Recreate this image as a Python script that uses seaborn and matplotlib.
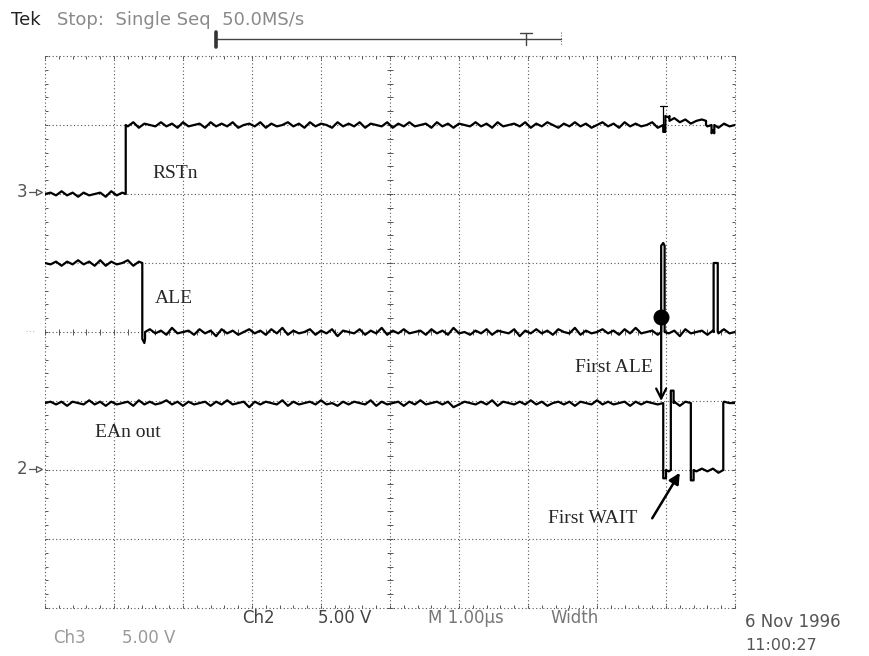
import numpy as np
import pandas as pd
import matplotlib
matplotlib.use("Agg")
import matplotlib.pyplot as plt
from matplotlib.lines import Line2D
import seaborn as sns

# ---- capture data (divisions: 10 horizontal x 8 vertical) ----
SAMPLE_T = np.round(np.arange(0, 10.0001, 0.08), 4)  # 126 sample instants

# RSTn: step low->high, small disturbance near the trigger
rstn_edges = [1.17, 8.96, 8.99, 9.05, 9.58, 9.66, 9.70]
rstn_levels = [6.0, 7.0, 6.9, 7.13, 7.06, 7.0, 6.88, 7.0]
rstn_ripple = [0, 1, -1, 2, -1, 1, -2, 1, -1, 0,
               1, -2, 2, -1, 1, -1, 2, -2, 1, 0,
               -1, 2, -1, 1, -2, 2, -1, 0, 1, -2,
               2, -1, 1, -1, 2, -2, 0, 1, -1, 2,
               -2, 1, -1, 0, 2, -1, 1, -2, 2, -1,
               1, 0, -2, 2, -1, 1, -1, 2, -2, 1,
               0, -1, 2, -2, 1, -1, 2, -1, 0, 1,
               -2, 2, -1, 1, -2, 1, 0, -1, 2, -1,
               1, -2, 2, -1, 0, 1, -1, 2, -2, 1,
               -1, 2, 0, -2, 1, -1, 2, -1, 1, -2,
               0, 2, -1, 1, -2, 2, -1, 1, -1, 0,
               2, -2, 1, -1, 2, -1, 1, -2, 0, 1,
               -1, 2, -2, 1, -1, 0]

# ALE: high->low, then the first ALE pulse and a second one
ale_edges = [1.41, 1.45, 8.93, 8.98, 9.69, 9.75]
ale_levels = [5.0, 3.9, 4.0, 5.25, 4.0, 5.0, 4.0]
ale_ripple = [0, -1, 1, -2, 1, -1, 2, -1, 1, -2,
              2, -2, 1, -1, 0, 2, -2, 1, -3, 2,
              -1, 1, -2, 3, -1, 0, 1, -2, 2, -1,
              1, -3, 2, -1, 1, -2, 0, 2, -1, 1,
              -2, 2, -1, 3, -2, 1, -1, 0, 2, -2,
              1, -1, 2, -3, 1, 0, -1, 2, -2, 1,
              -1, 3, -2, 1, -1, 2, -1, 0, 1, -2,
              2, -1, 1, -2, 3, -1, 0, -2, 1, -1,
              2, -2, 1, 0, -1, 2, -3, 1, -1, 2,
              -1, 1, -2, 2, 0, -1, 3, -2, 1, -1,
              0, 2, -1, 1, -2, 2, -1, 3, -1, 0,
              1, -2, 2, -1, 1, -3, 2, -1, 0, 1,
              -2, 1, -1, 2, -1, 0]

# EAn out: high until the first ALE, then the WAIT pulses
ean_edges = [8.96, 9.00, 9.07, 9.11, 9.36, 9.40, 9.83]
ean_levels = [2.97, 1.88, 2.0, 3.15, 2.97, 1.85, 2.0, 2.97]
ean_ripple = [0, 1, -1, 1, -2, 1, 0, -1, 2, -1,
              1, -2, 1, -1, 0, 1, -2, 2, -1, 1,
              -1, 0, 2, -1, 1, -2, 1, -1, 0, 1,
              -2, 1, -1, 2, -1, 0, 1, -3, 1, -1,
              1, 0, -1, 2, -2, 1, -1, 0, 1, -1,
              2, -1, 0, -2, 1, -1, 1, 0, -1, 2,
              -2, 1, -1, 0, 1, -2, 1, -1, 2, -1,
              0, 1, -1, 1, -3, -1, 1, 0, -1, 1,
              -1, 2, -2, 1, 0, -1, 1, -1, 2, -1,
              1, -2, 0, 1, -1, 1, -2, 1, 0, -1,
              2, -1, 1, -1, 0, 1, -2, 1, -1, 1,
              0, -1, 2, -1, 1, -2, 1, 0, -1, 1,
              -1, 1, -2, 1, 0, -1]

RIPPLE_UNIT = 0.02


def build_trace(edges, levels, ripple):
    bounds = [0.0] + list(edges) + [10.0]
    xs, ys = [], []
    for k, lev in enumerate(levels):
        a, b = bounds[k], bounds[k + 1]
        xs.append(a)
        ys.append(lev)
        for i in np.where((SAMPLE_T > a + 1e-9) & (SAMPLE_T < b - 1e-9))[0]:
            xs.append(SAMPLE_T[i])
            ys.append(lev + ripple[i] * RIPPLE_UNIT)
        xs.append(b)
        ys.append(lev)
    return xs, ys


frames = []
for name, e, l, r in [("RSTn", rstn_edges, rstn_levels, rstn_ripple),
                      ("ALE", ale_edges, ale_levels, ale_ripple),
                      ("EAn", ean_edges, ean_levels, ean_ripple)]:
    x, y = build_trace(e, l, r)
    frames.append(pd.DataFrame({"t": x, "v": y, "signal": name}))
df = pd.concat(frames, ignore_index=True)

# ---- figure ----
sns.set_style("white")
plt.rcParams["font.family"] = ["DejaVu Sans"]
W, H = 870, 656
fig = plt.figure(figsize=(W / 100, H / 100), dpi=100)
ax = fig.add_axes([45 / W, 1 - 608 / H, 690 / W, 552 / H])
ax.set_xlim(0, 10)
ax.set_ylim(0, 8)
ax.set_xticks([])
ax.set_yticks([])
for s in ax.spines.values():
    s.set_visible(False)

# graticule
gcol = "#555555"
gls = (0, (1, 2.2))
for gx in range(11):
    ax.axvline(gx, color=gcol, lw=0.8, ls=gls, clip_on=False, zorder=1)
for gy in range(9):
    ax.axhline(gy, color=gcol, lw=0.8, ls=gls, clip_on=False, zorder=1)
minor_x = np.arange(0, 10.01, 0.2)
minor_y = np.arange(0, 8.01, 0.2)
tk = 0.05
ax.vlines(minor_x, 4 - tk, 4 + tk, color=gcol, lw=0.7, clip_on=False)
ax.hlines(minor_y, 5 - tk, 5 + tk, color=gcol, lw=0.7, clip_on=False)
ax.vlines(minor_x, 8 - tk, 8, color=gcol, lw=0.7, clip_on=False)
ax.vlines(minor_x, 0, tk, color=gcol, lw=0.7, clip_on=False)
ax.hlines(minor_y, 0, tk, color=gcol, lw=0.7, clip_on=False)
ax.hlines(minor_y, 10 - tk, 10, color=gcol, lw=0.7, clip_on=False)

# traces
sns.lineplot(data=df, x="t", y="v", hue="signal",
             palette={"RSTn": "black", "ALE": "black", "EAn": "black"},
             estimator=None, sort=False, legend=False, lw=1.6, ax=ax, zorder=3)
ax.set_xlabel("")
ax.set_ylabel("")

# trigger cursor mark on RSTn
ax.plot([8.96, 8.96], [7.0, 7.27], color="black", lw=0.9)
ax.plot([8.91, 9.01], [7.27, 7.27], color="black", lw=0.9)

# annotations
serif = "Liberation Serif"
ax.text(1.55, 6.3, "RSTn", family=serif, fontsize=14, va="center")
ax.text(1.59, 4.49, "ALE", family=serif, fontsize=14, va="center")
ax.text(0.72, 2.54, "EAn out", family=serif, fontsize=14, va="center")
ax.text(7.68, 3.48, "First ALE", family=serif, fontsize=14, va="center")
ax.text(8.58, 1.30, "First WAIT", family=serif, fontsize=14, va="center", ha="right")

ax.plot(8.93, 4.22, "o", ms=10.5, color="black", zorder=5)
ax.annotate("", xy=(8.93, 3.0), xytext=(8.93, 4.22),
            arrowprops=dict(arrowstyle="->", lw=1.6, color="black",
                            mutation_scale=18, shrinkA=0, shrinkB=0), zorder=4)
ax.annotate("", xy=(9.20, 1.96), xytext=(8.80, 1.30),
            arrowprops=dict(arrowstyle="-|>", lw=1.8, color="black",
                            mutation_scale=16, shrinkA=0, shrinkB=0), zorder=4)


def fpx(px, py):
    return px / W, 1 - py / H


def fline(xs, ys, **kw):
    fig.add_artist(Line2D([x / W for x in xs], [1 - y / H for y in ys],
                          transform=fig.transFigure, **kw))


# channel reference markers at the left edge
for lab, py in [("3", 192), ("2", 469)]:
    fig.text(*fpx(22, py), lab, ha="center", va="center", fontsize=12, color="#555555")
    fline([29, 37], [py, py], color="#555555", lw=0.9)
    fig.add_artist(Line2D([39 / W], [1 - py / H], transform=fig.transFigure,
                          marker=">", ms=5, mfc="white", mec="#555555", mew=0.9))
fline([26, 36], [331, 331], color="#bbbbbb", lw=0.8, ls=(0, (1, 2)))

# header
fig.text(*fpx(11, 20), "Tek", fontsize=13, color="#222222", va="center")
fig.text(*fpx(57, 20), "Stop:  Single Seq  50.0MS/s", fontsize=13,
         color="#8a8a8a", va="center")
fline([216, 561], [39, 39], color="#444444", lw=1.0)
fline([216, 216], [32, 47], color="#333333", lw=2.6)
fline([526, 526], [33, 45], color="#444444", lw=1.0)
fline([520, 532], [33, 33], color="#444444", lw=1.0)
fline([561, 561], [32, 46], color="#777777", lw=0.8, ls=(0, (1, 1.5)))

# footer
fig.text(*fpx(242, 618), "Ch2", fontsize=12, color="#444444", va="center")
fig.text(*fpx(318, 618), "5.00 V", fontsize=12, color="#444444", va="center")
fig.text(*fpx(428, 618), "M 1.00\u00b5s", fontsize=12, color="#777777", va="center")
fig.text(*fpx(550, 618), "Width", fontsize=12, color="#777777", va="center")
fig.text(*fpx(53, 638), "Ch3", fontsize=12, color="#9a9a9a", va="center")
fig.text(*fpx(122, 638), "5.00 V", fontsize=12, color="#9a9a9a", va="center")
fig.text(*fpx(745, 622), "6 Nov 1996", fontsize=12, color="#555555", va="center")
fig.text(*fpx(745, 646), "11:00:27", fontsize=11.5, color="#555555", va="center")

fig.savefig("out.png", dpi=100, facecolor="white")
